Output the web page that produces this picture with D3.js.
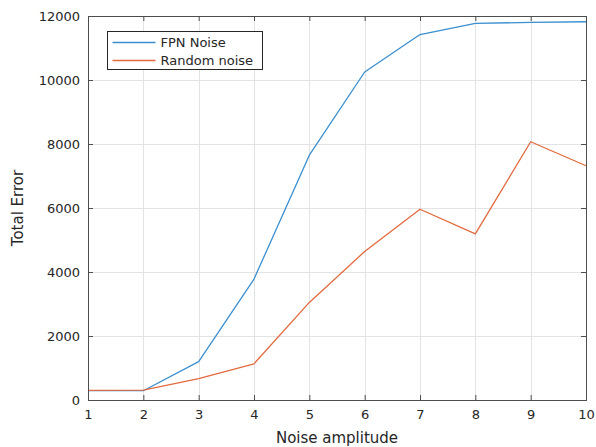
<!DOCTYPE html>
<html>
<head>
<meta charset="utf-8">
<script src="https://cdn.jsdelivr.net/npm/d3@7"></script>
<style>
  html, body { margin: 0; padding: 0; background: #fff; }
  svg { display: block; font-family: "DejaVu Sans", sans-serif; }
</style>
</head>
<body>
<svg id="chart" width="596" height="447"></svg>
<script>
// Noise amplitude vs. total error for two noise types
const amplitudes = [1, 2, 3, 4, 5, 6, 7, 8, 9, 10];
const fpnNoise = [290, 290, 1200, 3780, 7650, 10250, 11420, 11770, 11800, 11820];
const randomNoise = [300, 310, 670, 1130, 3050, 4640, 5960, 5190, 8070, 7320];
const seriesNames = ["FPN Noise", "Random noise"];
const seriesColors = ["#3b8fd0", "#e26a3e"];
const xTicks = [1, 2, 3, 4, 5, 6, 7, 8, 9, 10];
const yTicks = [0, 2000, 4000, 6000, 8000, 10000, 12000];

const svg = d3.select("#chart");
const m = { left: 88, top: 16, right: 10, bottom: 47 };
const W = 596, H = 447;
const x0 = m.left, x1 = W - m.right, y0 = H - m.bottom, y1 = m.top;

const x = d3.scaleLinear().domain([1, 10]).range([x0, x1]);
const y = d3.scaleLinear().domain([0, 12000]).range([y0, y1]);

const axisColor = "#4d4d4d";
const textColor = "#262626";
const gridColor = "#e3e3e3";

// grid
const grid = svg.append("g");
grid.selectAll(".gx").data(xTicks.slice(1, -1)).join("line")
  .attr("x1", d => Math.round(x(d)) + 0.5).attr("x2", d => Math.round(x(d)) + 0.5)
  .attr("y1", y1).attr("y2", y0)
  .attr("stroke", gridColor).attr("stroke-width", 1);
grid.selectAll(".gy").data(yTicks.slice(1, -1)).join("line")
  .attr("y1", d => Math.round(y(d)) + 0.5).attr("y2", d => Math.round(y(d)) + 0.5)
  .attr("x1", x0).attr("x2", x1)
  .attr("stroke", gridColor).attr("stroke-width", 1);

// series lines
const series = [fpnNoise, randomNoise];
const line = d3.line().x((d, i) => x(amplitudes[i])).y(d => y(d));
series.forEach((vals, k) => {
  svg.append("path").datum(vals)
    .attr("d", line)
    .attr("fill", "none")
    .attr("stroke", seriesColors[k])
    .attr("stroke-width", 1.3)
    .attr("stroke-linejoin", "round");
});

// axes (ticks pointing inward, mirrored on top/right)
const tickLen = 5;
const bottomAxis = d3.axisBottom(x).tickValues(xTicks).tickSize(-tickLen).tickPadding(10).tickFormat(d3.format("d"));
const topAxis = d3.axisTop(x).tickValues(xTicks).tickSize(-tickLen).tickFormat("");
const leftAxis = d3.axisLeft(y).tickValues(yTicks).tickSize(-tickLen).tickPadding(8).tickFormat(d3.format("d"));
const rightAxis = d3.axisRight(y).tickValues(yTicks).tickSize(-tickLen).tickFormat("");

function style(g) {
  g.select(".domain").attr("stroke", axisColor).attr("stroke-width", 1);
  g.selectAll(".tick line").attr("stroke", axisColor);
  g.selectAll(".tick text").attr("fill", textColor).attr("font-size", 13)
    .attr("font-family", "DejaVu Sans, sans-serif");
}
svg.append("g").attr("transform", `translate(0,${y0})`).call(bottomAxis).call(style);
svg.append("g").attr("transform", `translate(0,${y1})`).call(topAxis).call(style);
svg.append("g").attr("transform", `translate(${x0},0)`).call(leftAxis).call(style);
svg.append("g").attr("transform", `translate(${x1},0)`).call(rightAxis).call(style);

// axis labels
svg.append("text")
  .attr("x", (x0 + x1) / 2).attr("y", 443)
  .attr("text-anchor", "middle").attr("font-size", 15).attr("fill", textColor)
  .text("Noise amplitude");
svg.append("text")
  .attr("transform", `translate(23,${(y0 + y1) / 2}) rotate(-90)`)
  .attr("text-anchor", "middle").attr("font-size", 15).attr("fill", textColor)
  .text("Total Error");

// legend
const lg = svg.append("g").attr("transform", "translate(107.5,31.5)");
lg.append("rect").attr("width", 155).attr("height", 38)
  .attr("fill", "#fff").attr("stroke", textColor).attr("stroke-width", 1);
seriesNames.forEach((name, i) => {
  const yy = 11 + i * 18;
  lg.append("line").attr("x1", 5).attr("x2", 48).attr("y1", yy).attr("y2", yy)
    .attr("stroke", seriesColors[i]).attr("stroke-width", 1.3);
  lg.append("text").attr("x", 53).attr("y", yy + 4.5)
    .attr("font-size", 13).attr("fill", textColor).text(name);
});
</script>
</body>
</html>
